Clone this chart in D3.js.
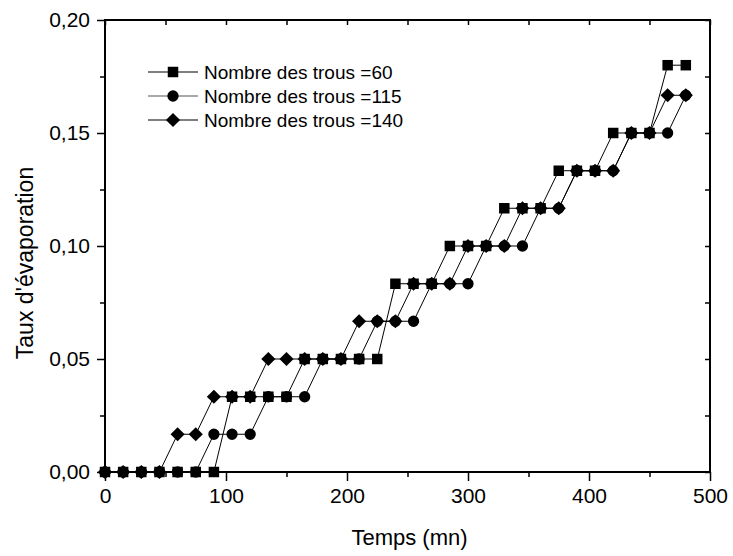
<!DOCTYPE html>
<html>
<head>
<meta charset="utf-8">
<script src="https://cdn.jsdelivr.net/npm/d3@7"></script>
<style>
  html, body { margin: 0; padding: 0; background: #fff; }
  svg { display: block; font-family: "Liberation Sans", Arial, sans-serif; }
</style>
</head>
<body>
<div id="chart"></div>
<script>
/* Taux d'évaporation vs temps, three hole counts */
const times = [0, 15, 30, 45, 60, 75, 90, 105, 120, 135, 150, 165, 180, 195, 210, 225, 240,
  255, 270, 285, 300, 315, 330, 345, 360, 375, 390, 405, 420, 435, 450, 465, 480];

const trous60 = [0, 0, 0, 0, 0, 0, 0, 0.0333, 0.0333, 0.0333, 0.0333, 0.05, 0.05, 0.05, 0.05, 0.05,
  0.0833, 0.0833, 0.0833, 0.1, 0.1, 0.1, 0.1167, 0.1167, 0.1167, 0.1333, 0.1333, 0.1333,
  0.15, 0.15, 0.15, 0.18, 0.18];

const trous115 = [0, 0, 0, 0, 0, 0, 0.0167, 0.0167, 0.0167, 0.0333, 0.0333, 0.0333, 0.05, 0.05, 0.05,
  0.0667, 0.0667, 0.0667, 0.0833, 0.0833, 0.0833, 0.1, 0.1, 0.1, 0.1167, 0.1167,
  0.1333, 0.1333, 0.1333, 0.15, 0.15, 0.15, 0.1667];

const trous140 = [0, 0, 0, 0, 0.0167, 0.0167, 0.0333, 0.0333, 0.0333, 0.05, 0.05, 0.05, 0.05, 0.05,
  0.0667, 0.0667, 0.0667, 0.0833, 0.0833, 0.0833, 0.1, 0.1, 0.1, 0.1167, 0.1167, 0.1167,
  0.1333, 0.1333, 0.1333, 0.15, 0.15, 0.1667, 0.1667];

const seriesNames = ["Nombre des trous =60", "Nombre des trous =115", "Nombre des trous =140"];
const seriesValues = [trous60, trous115, trous140];
const seriesSymbols = ["square", "circle", "diamond"];

const xTicks = [0, 100, 200, 300, 400, 500];
const xMinor = [50, 150, 250, 350, 450];
const yTicks = [0, 0.05, 0.10, 0.15, 0.20];
const yMinor = [0.025, 0.075, 0.125, 0.175];

(function () {
  const W = 733, H = 556;
  const margin = { top: 20, right: 23, bottom: 84, left: 105 };
  const innerW = W - margin.left - margin.right;
  const innerH = H - margin.top - margin.bottom;

  const svg = d3.select("#chart").append("svg")
    .attr("width", W).attr("height", H);
  const g = svg.append("g")
    .attr("transform", `translate(${margin.left},${margin.top})`);

  const x = d3.scaleLinear().domain([0, 500]).range([0, innerW]);
  const y = d3.scaleLinear().domain([0, 0.20]).range([innerH, 0]);

  // French decimal comma
  const fr = d3.formatLocale({ decimal: ",", thousands: ".", grouping: [3], currency: ["", " €"] });
  const fmtY = fr.format(".2f");

  const styleAxis = (sel, fs) => {
    sel.select(".domain").remove();
    sel.selectAll("line").attr("stroke", "#000").attr("stroke-width", 1.5);
    sel.selectAll("text").attr("fill", "#000").style("font-size", fs + "px");
  };

  // Bottom axis (outward ticks)
  g.append("g")
    .attr("transform", `translate(0,${innerH})`)
    .call(d3.axisBottom(x).tickValues(xTicks).tickSize(9).tickPadding(7).tickFormat(d3.format("d")))
    .call(s => styleAxis(s, 21));
  g.append("g")
    .attr("transform", `translate(0,${innerH})`)
    .call(d3.axisBottom(x).tickValues(xMinor).tickSize(5).tickFormat(""))
    .call(s => styleAxis(s, 21));

  // Left axis
  g.append("g")
    .call(d3.axisLeft(y).tickValues(yTicks).tickSize(8).tickPadding(7).tickFormat(fmtY))
    .call(s => styleAxis(s, 21));
  g.append("g")
    .call(d3.axisLeft(y).tickValues(yMinor).tickSize(5).tickFormat(""))
    .call(s => styleAxis(s, 21));

  // Top + right axes: inward ticks, no labels
  g.append("g")
    .call(d3.axisTop(x).tickValues(xTicks.concat(xMinor)).tickSize(-5).tickFormat(""))
    .call(s => styleAxis(s, 21));
  g.append("g")
    .attr("transform", `translate(${innerW},0)`)
    .call(d3.axisRight(y).tickValues(yTicks.concat(yMinor)).tickSize(-5).tickFormat(""))
    .call(s => styleAxis(s, 21));

  // Frame
  g.append("rect")
    .attr("width", innerW).attr("height", innerH)
    .attr("fill", "none").attr("stroke", "#000").attr("stroke-width", 2);

  // Axis titles
  svg.append("text")
    .attr("x", margin.left + innerW / 2 + 2).attr("y", 545)
    .attr("text-anchor", "middle").style("font-size", "22px")
    .text("Temps (mn)");
  svg.append("text")
    .attr("transform", "rotate(-90)")
    .attr("x", -263).attr("y", 33)
    .attr("text-anchor", "middle").style("font-size", "23px")
    .text("Taux d'évaporation");

  // Symbols
  const symType = { square: d3.symbolSquare, circle: d3.symbolCircle, diamond: d3.symbolSquare };
  const symSize = { square: 110, circle: 100, diamond: 100 };
  const symRot = { square: 0, circle: 0, diamond: 45 };
  const drawSym = (sel, kind) => sel
    .attr("d", d3.symbol().type(symType[kind]).size(symSize[kind]))
    .attr("fill", "#000");

  const line = d3.line()
    .x((d, i) => x(times[i]))
    .y(d => y(d));

  seriesValues.forEach((vals, k) => {
    g.append("path")
      .datum(vals)
      .attr("fill", "none")
      .attr("stroke", "#000")
      .attr("stroke-width", 1)
      .attr("d", line);
  });

  seriesValues.forEach((vals, k) => {
    const kind = seriesSymbols[k];
    g.selectAll(`path.sym-${kind}`)
      .data(vals)
      .join("path")
      .attr("class", `sym-${kind}`)
      .attr("transform", (d, i) => `translate(${x(times[i])},${y(d)}) rotate(${symRot[kind]})`)
      .call(s => drawSym(s, kind));
  });

  // Legend
  const leg = svg.append("g").attr("transform", "translate(148,72)");
  seriesNames.forEach((name, k) => {
    const kind = seriesSymbols[k];
    const row = leg.append("g").attr("transform", `translate(0,${k * 24})`);
    row.append("line")
      .attr("x1", 0).attr("x2", 50).attr("y1", 0).attr("y2", 0)
      .attr("stroke", k === 1 ? "#555" : "#000").attr("stroke-width", 1.2);
    row.append("path")
      .attr("transform", `translate(25,0) rotate(${symRot[kind]})`)
      .call(s => drawSym(s, kind));
    row.append("text")
      .attr("x", 56).attr("y", 0).attr("dy", "0.35em")
      .style("font-size", "19px")
      .text(name);
  });
})();
</script>
</body>
</html>
